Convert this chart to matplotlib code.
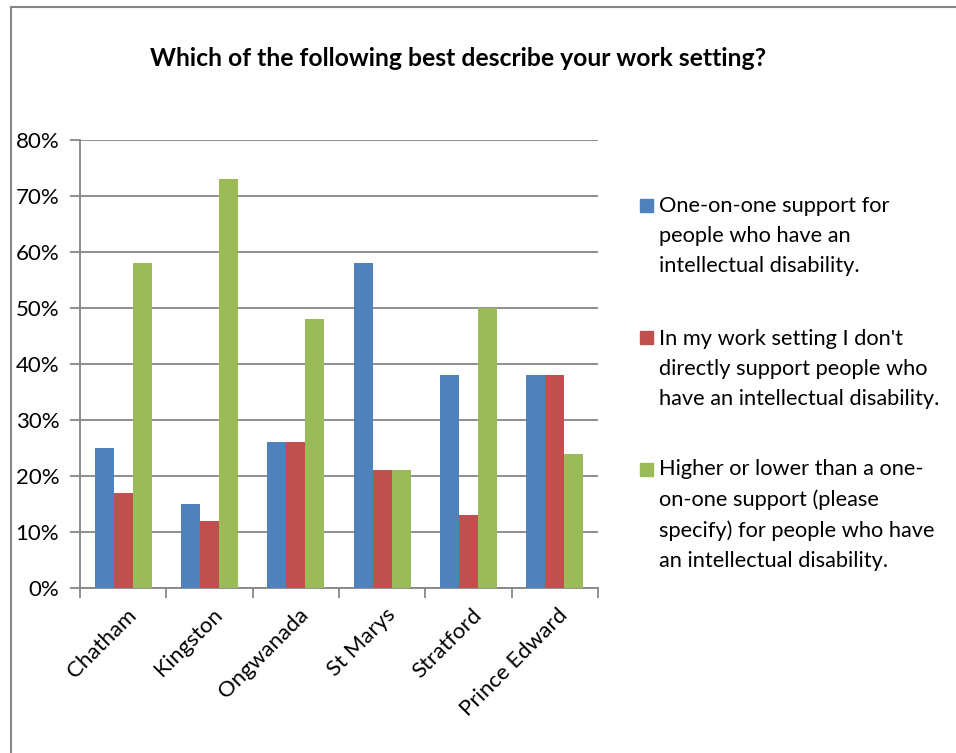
import numpy as np
import matplotlib
matplotlib.use('Agg')
from matplotlib import pyplot as plt
from matplotlib.lines import Line2D
from matplotlib.patches import Rectangle

plt.rcParams['font.family'] = ['Lato', 'DejaVu Sans']

sites = ['Chatham', 'Kingston', 'Ongwanada', 'St Marys', 'Stratford', 'Prince Edward']
one_on_one = [25, 15, 26, 58, 38, 38]
no_direct = [17, 12, 26, 21, 13, 38]
higher_lower = [58, 73, 48, 21, 50, 24]
series_labels = [
    'One-on-one support for\npeople who have an\nintellectual disability.',
    "In my work setting I don't\ndirectly support people who\nhave an intellectual disability.",
    'Higher or lower than a one-\non-one support (please\nspecify) for people who have\nan intellectual disability.',
]
colors = ['#4f81bd', '#c0504d', '#9bbb59']
grid_col = '#868686'

W, H = 956, 753
fig = plt.figure(figsize=(W / 100, H / 100), dpi=100)

# outer chart border (left and top visible)
fig.add_artist(Line2D([10.5 / W, 10.5 / W], [0, 1 - 6.5 / H], color=grid_col, lw=1.5))
fig.add_artist(Line2D([10.5 / W, 1], [1 - 6.5 / H, 1 - 6.5 / H], color=grid_col, lw=1.5))

ax = fig.add_axes([80 / W, 1 - 588 / H, 518 / W, 448 / H])
x = np.arange(len(sites))
bw = 0.22
for i, vals in enumerate([one_on_one, no_direct, higher_lower]):
    ax.bar(x + (i - 1) * bw, vals, bw, color=colors[i], zorder=3)

ax.set_xlim(-0.5, len(sites) - 0.5)
ax.set_ylim(0, 80)
ax.set_yticks(range(0, 81, 10))
ax.set_yticklabels([f'{v}%' for v in range(0, 81, 10)], fontsize=16)
ax.yaxis.grid(True, color=grid_col, lw=1.3, zorder=0)
ax.set_xticks(np.arange(-0.5, len(sites), 1))
ax.set_xticklabels([])
ax.tick_params(axis='both', length=7, width=1.3, color=grid_col, pad=8)
for s in ['top', 'right']:
    ax.spines[s].set_visible(False)
for s in ['left', 'bottom']:
    ax.spines[s].set_color(grid_col)
    ax.spines[s].set_linewidth(1.3)

for i, name in enumerate(sites):
    ax.annotate(name, (x[i], 0), xytext=(2, -12), textcoords='offset points',
                rotation=45, ha='right', va='top', rotation_mode='anchor',
                fontsize=16)

fig.text(458 / W, 1 - 58 / H, 'Which of the following best describe your work setting?',
         ha='center', va='center', fontsize=17.8, fontweight='bold')

# legend drawn by hand so multi-line entries line up with the square at the first line
legend_tops = [196, 329, 459]
square_tops = [199, 331, 463]
for lbl, col, top, sq in zip(series_labels, colors, legend_tops, square_tops):
    fig.add_artist(Rectangle((640 / W, 1 - (sq + 13) / H), 13 / W, 13 / H,
                             color=col, transform=fig.transFigure))
    fig.text(659 / W, 1 - top / H, lbl, ha='left', va='top', fontsize=15.7,
             linespacing=1.63)

fig.savefig('out.png', dpi=100)
